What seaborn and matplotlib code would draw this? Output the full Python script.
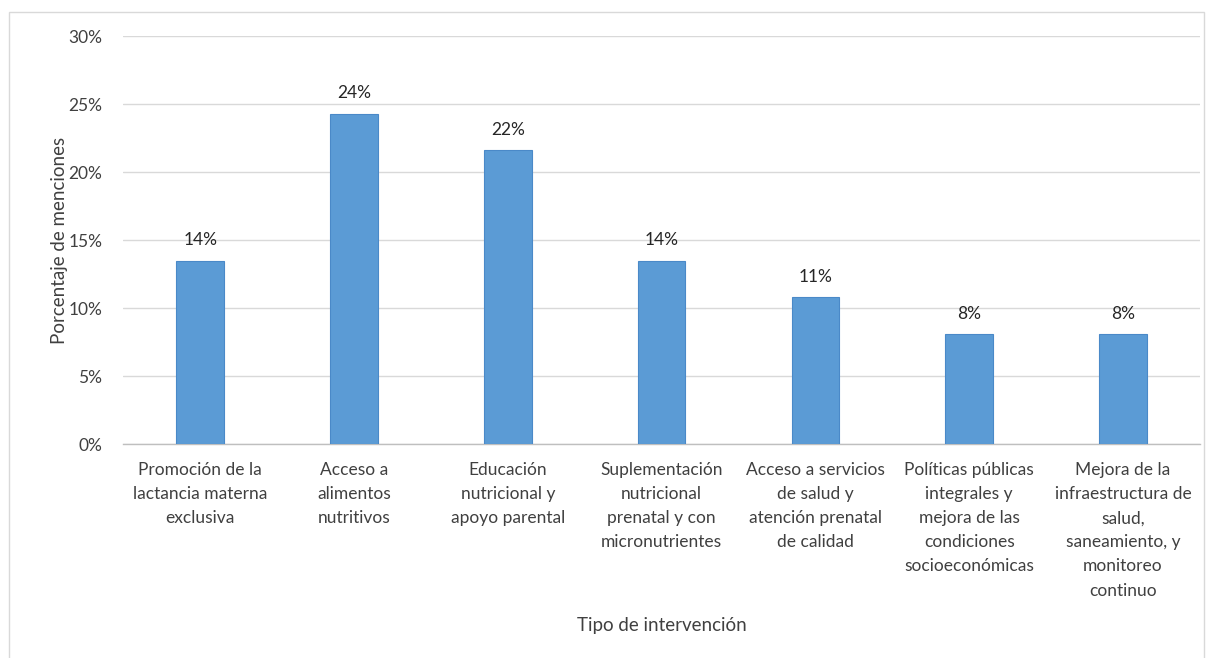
import matplotlib
matplotlib.use("Agg")
import matplotlib.pyplot as plt
import seaborn as sns
import pandas as pd
from matplotlib.patches import Rectangle
from matplotlib.ticker import PercentFormatter

categorias = [
    "Promoción de la\nlactancia materna\nexclusiva",
    "Acceso a\nalimentos\nnutritivos",
    "Educación\nnutricional y\napoyo parental",
    "Suplementación\nnutricional\nprenatal y con\nmicronutrientes",
    "Acceso a servicios\nde salud y\natención prenatal\nde calidad",
    "Políticas públicas\nintegrales y\nmejora de las\ncondiciones\nsocioeconómicas",
    "Mejora de la\ninfraestructura de\nsalud,\nsaneamiento, y\nmonitoreo\ncontinuo",
]
porcentajes = [13.5, 24.3, 21.6, 13.5, 10.8, 8.1, 8.1]
etiquetas = ["14%", "24%", "22%", "14%", "11%", "8%", "8%"]

sns.set_theme(style="white")
plt.rcParams["font.family"] = ["Lato", "DejaVu Sans"]

df = pd.DataFrame({"cat": categorias, "pct": porcentajes})

fig = plt.figure(figsize=(12.09, 6.58), dpi=100)
ax = fig.add_axes([0.102, 0.325, 0.8905, 0.620])

sns.barplot(data=df, x="cat", y="pct", color="#5B9BD5", width=0.31,
            edgecolor="#4A89C8", linewidth=0.8, saturation=1, ax=ax, zorder=3)

for i, (v, t) in enumerate(zip(porcentajes, etiquetas)):
    ax.text(i, v + 0.9, t, ha="center", va="bottom", fontsize=12.5, color="#262626")

ax.set_ylim(0, 30)
ax.set_xlim(-0.5, 6.5)
ax.set_yticks(range(0, 31, 5))
ax.yaxis.set_major_formatter(PercentFormatter(decimals=0))
ax.grid(axis="y", color="#D9D9D9", linewidth=1, zorder=0)
for s in ["top", "right", "left"]:
    ax.spines[s].set_visible(False)
ax.spines["bottom"].set_color("#BFBFBF")
ax.spines["bottom"].set_linewidth(1)
ax.tick_params(axis="both", length=0, labelsize=12.5, colors="#404040")
ax.tick_params(axis="y", pad=15)
ax.tick_params(axis="x", pad=13)
for lbl in ax.get_xticklabels():
    lbl.set_linespacing(1.62)

ax.set_xlabel("Tipo de intervención", fontsize=13.5, color="#404040", labelpad=13)
ax.set_ylabel("Porcentaje de menciones", fontsize=13.5, color="#404040", labelpad=0)

fig.patches.append(Rectangle((9 / 1209, -10 / 658), 1195 / 1209, 656 / 658,
                             transform=fig.transFigure, fill=False,
                             edgecolor="#D9D9D9", linewidth=1))

fig.savefig("out.png", dpi=100)
